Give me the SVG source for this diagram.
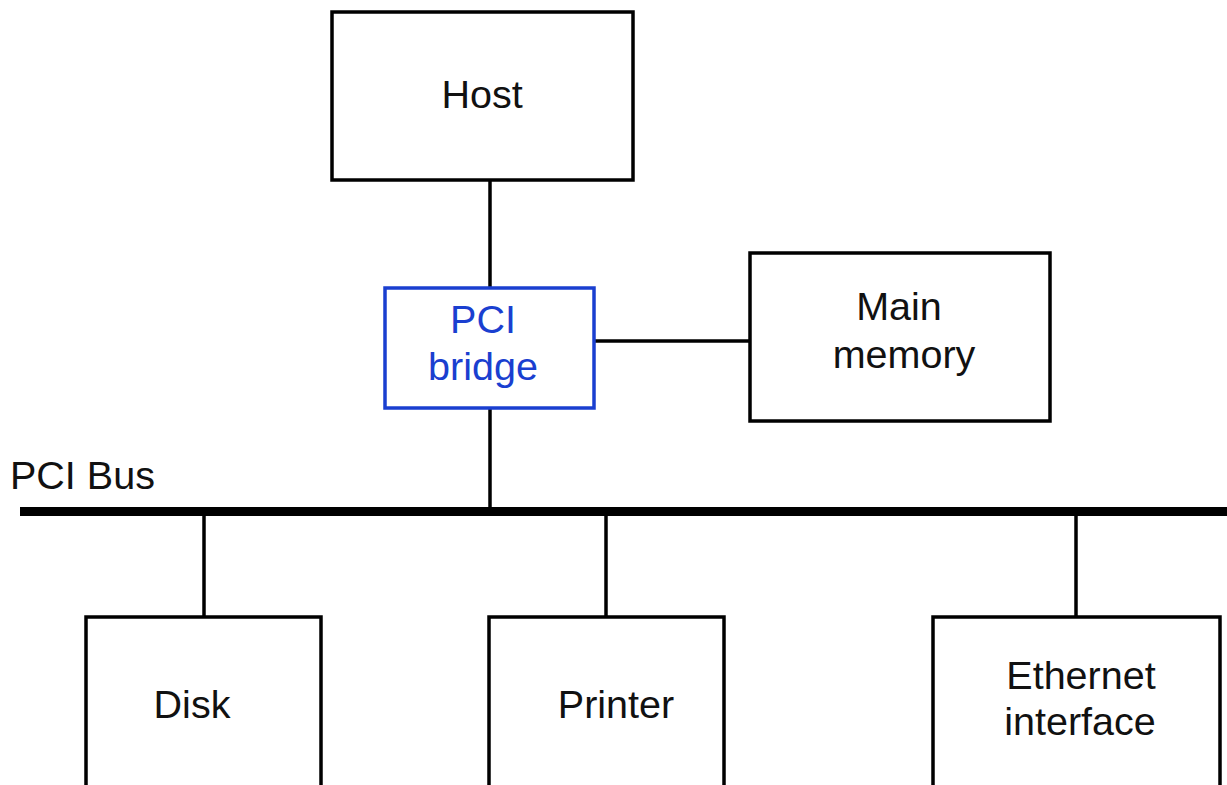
<svg xmlns="http://www.w3.org/2000/svg" width="1227" height="785" viewBox="0 0 1227 785">
<style>
.box{fill:#fff;stroke:#000;stroke-width:3.5}
.blue{fill:#fff;stroke:#1a3fd0;stroke-width:3.5}
.t{font-family:"Liberation Sans",Arial,sans-serif;font-size:39.5px;fill:#111;text-anchor:middle}
.tb{fill:#1a3fd0}
.c{stroke:#000;stroke-width:3.5;fill:none}
</style>
<rect width="1227" height="785" fill="#fff"/>
<g id="connectors">
<line class="c" x1="490" y1="180" x2="490" y2="288"/>
<line class="c" x1="594" y1="341" x2="750" y2="341"/>
<line class="c" x1="490" y1="408" x2="490" y2="512"/>
<line x1="20" y1="511.5" x2="1227" y2="511.5" stroke="#000" stroke-width="9"/>
<line class="c" x1="204" y1="512" x2="204" y2="617"/>
<line class="c" x1="606" y1="512" x2="606" y2="617"/>
<line class="c" x1="1076" y1="512" x2="1076" y2="617"/>
</g>
<g id="host">
<rect class="box" x="332" y="12" width="301" height="168"/>
<text class="t" x="482" y="108">Host</text>
</g>
<g id="pci-bridge">
<rect class="blue" x="385" y="288" width="209" height="120"/>
<text class="t tb" x="483" y="333">PCI</text>
<text class="t tb" x="483" y="380">bridge</text>
</g>
<g id="main-memory">
<rect class="box" x="750" y="253" width="300" height="168"/>
<text class="t" x="899" y="320">Main</text>
<text class="t" x="904" y="368">memory</text>
</g>
<g id="pci-bus-label">
<text class="t" x="10" y="489" style="text-anchor:start">PCI Bus</text>
</g>
<g id="disk">
<rect class="box" x="86" y="617" width="235" height="180"/>
<text class="t" x="192" y="718">Disk</text>
</g>
<g id="printer">
<rect class="box" x="489" y="617" width="235" height="180"/>
<text class="t" x="616" y="718">Printer</text>
</g>
<g id="ethernet">
<rect class="box" x="933" y="617" width="287" height="180"/>
<text class="t" x="1081" y="689">Ethernet</text>
<text class="t" x="1080" y="735">interface</text>
</g>
</svg>
